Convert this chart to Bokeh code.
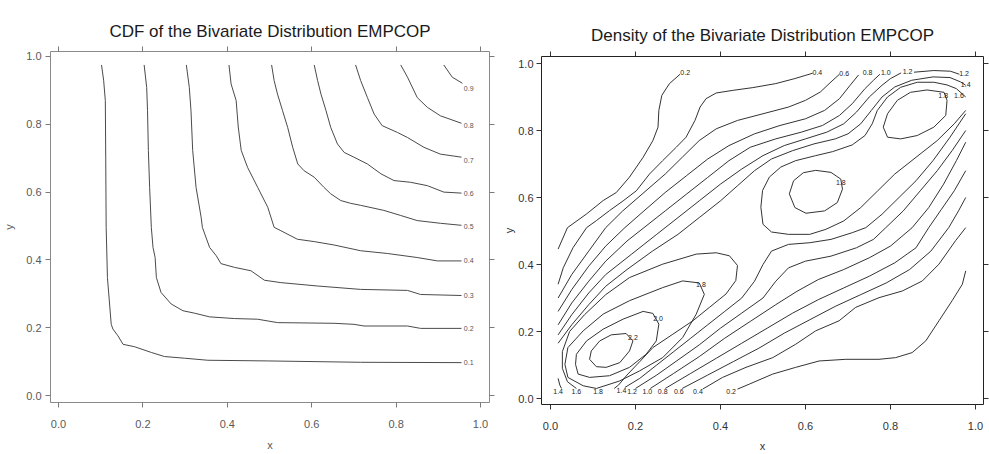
from bokeh.plotting import figure
from bokeh.layouts import row
from bokeh.models import FixedTicker, LinearAxis, Range1d, PrintfTickFormatter
from bokeh.embed import file_html
from bokeh.resources import INLINE
from bokeh.core.properties import value

TICKS = [0.0, 0.2, 0.4, 0.6, 0.8, 1.0]
FONT = "Liberation Sans"

# ---------------- CDF panel: contour lines ----------------
CDF_01 = [(0.102, 0.975), (0.107, 0.93), (0.111, 0.87), (0.112, 0.70), (0.113, 0.496), (0.116, 0.348),
          (0.125, 0.21), (0.129, 0.196), (0.141, 0.176), (0.153, 0.151), (0.18, 0.144), (0.22, 0.127),
          (0.251, 0.115), (0.299, 0.11), (0.354, 0.104), (0.496, 0.102), (0.716, 0.098), (0.955, 0.097)]
CDF_02 = [(0.203, 0.975), (0.209, 0.909), (0.211, 0.84), (0.213, 0.723), (0.216, 0.614), (0.22, 0.496),
          (0.224, 0.437), (0.229, 0.407), (0.232, 0.348), (0.243, 0.304), (0.267, 0.27), (0.295, 0.25),
          (0.322, 0.243), (0.358, 0.232), (0.417, 0.227), (0.472, 0.225), (0.519, 0.215), (0.653, 0.213),
          (0.7, 0.21), (0.724, 0.205), (0.827, 0.205), (0.858, 0.198), (0.955, 0.198)]
CDF_03 = [(0.303, 0.975), (0.31, 0.909), (0.314, 0.84), (0.318, 0.723), (0.326, 0.614), (0.338, 0.526),
          (0.341, 0.496), (0.358, 0.437), (0.374, 0.412), (0.385, 0.389), (0.417, 0.378), (0.456, 0.368),
          (0.488, 0.34), (0.527, 0.333), (0.614, 0.323), (0.716, 0.313), (0.827, 0.31), (0.858, 0.298),
          (0.955, 0.295)]
CDF_04 = [(0.404, 0.975), (0.409, 0.919), (0.421, 0.87), (0.426, 0.792), (0.433, 0.723), (0.448, 0.673),
          (0.472, 0.614), (0.496, 0.555), (0.511, 0.496), (0.527, 0.486), (0.566, 0.461), (0.606, 0.454),
          (0.653, 0.444), (0.716, 0.427), (0.779, 0.419), (0.85, 0.407), (0.898, 0.397), (0.955, 0.397)]
CDF_05 = [(0.505, 0.975), (0.511, 0.929), (0.519, 0.889), (0.531, 0.84), (0.543, 0.791), (0.555, 0.732),
          (0.567, 0.683), (0.582, 0.663), (0.606, 0.644), (0.629, 0.614), (0.645, 0.595), (0.669, 0.575),
          (0.692, 0.567), (0.716, 0.561), (0.771, 0.546), (0.811, 0.531), (0.85, 0.516), (0.905, 0.508),
          (0.955, 0.502)]
CDF_06 = [(0.606, 0.975), (0.614, 0.929), (0.622, 0.889), (0.634, 0.84), (0.645, 0.791), (0.661, 0.742),
          (0.677, 0.717), (0.7, 0.703), (0.732, 0.683), (0.764, 0.654), (0.795, 0.634), (0.834, 0.629),
          (0.874, 0.619), (0.913, 0.6), (0.955, 0.597)]
CDF_07 = [(0.704, 0.975), (0.716, 0.929), (0.732, 0.879), (0.748, 0.83), (0.767, 0.796), (0.803, 0.776),
          (0.827, 0.761), (0.866, 0.732), (0.905, 0.712), (0.955, 0.703)]
CDF_08 = [(0.811, 0.975), (0.827, 0.939), (0.85, 0.879), (0.874, 0.85), (0.905, 0.825), (0.955, 0.803)]
CDF_09 = [(0.913, 0.975), (0.933, 0.939), (0.957, 0.921)]
CDF_LINES = [CDF_01, CDF_02, CDF_03, CDF_04, CDF_05, CDF_06, CDF_07, CDF_08, CDF_09]
CDF_LABELS = ["0.1", "0.2", "0.3", "0.4", "0.5", "0.6", "0.7", "0.8", "0.9"]
CDF_LABEL_X = [0.972] * 9
CDF_LABEL_Y = [0.097, 0.198, 0.295, 0.398, 0.499, 0.596, 0.693, 0.796, 0.906]

# ---------------- Density panel: contour lines ----------------
# upper-left side of the ridge (left edge -> top edge)
DEN_02_A = [(0.018, 0.446), (0.04, 0.51), (0.085, 0.551), (0.124, 0.591), (0.155, 0.615), (0.186, 0.661),
            (0.218, 0.72), (0.241, 0.77), (0.253, 0.81), (0.255, 0.86), (0.262, 0.905), (0.28, 0.94),
            (0.305, 0.968)]
DEN_04_A = [(0.018, 0.341), (0.03, 0.39), (0.053, 0.45), (0.085, 0.51), (0.108, 0.531), (0.139, 0.561),
            (0.171, 0.59), (0.202, 0.62), (0.233, 0.67), (0.264, 0.71), (0.296, 0.75), (0.319, 0.78),
            (0.34, 0.83), (0.352, 0.87), (0.366, 0.895), (0.39, 0.912), (0.43, 0.92), (0.476, 0.928),
            (0.53, 0.94), (0.575, 0.955), (0.617, 0.971)]
DEN_06_A = [(0.018, 0.30), (0.05, 0.37), (0.09, 0.44), (0.13, 0.51), (0.17, 0.56), (0.22, 0.615),
            (0.27, 0.67), (0.31, 0.72), (0.35, 0.77), (0.39, 0.805), (0.44, 0.83), (0.50, 0.85),
            (0.56, 0.87), (0.60, 0.89), (0.635, 0.915), (0.66, 0.945), (0.68, 0.968)]
DEN_08_A = [(0.018, 0.26), (0.05, 0.325), (0.09, 0.395), (0.13, 0.455), (0.175, 0.51), (0.22, 0.56),
            (0.27, 0.615), (0.32, 0.665), (0.37, 0.715), (0.42, 0.755), (0.48, 0.79), (0.54, 0.815),
            (0.60, 0.835), (0.645, 0.86), (0.68, 0.895), (0.705, 0.935), (0.725, 0.966)]
DEN_10_A = [(0.018, 0.22), (0.05, 0.285), (0.09, 0.35), (0.13, 0.41), (0.18, 0.47), (0.22, 0.51),
            (0.27, 0.56), (0.32, 0.61), (0.37, 0.66), (0.42, 0.71), (0.47, 0.75), (0.53, 0.775),
            (0.59, 0.795), (0.64, 0.815), (0.68, 0.845), (0.71, 0.88), (0.74, 0.925), (0.76, 0.95),
            (0.775, 0.968)]
DEN_12_A = [(0.018, 0.19), (0.05, 0.25), (0.09, 0.315), (0.13, 0.37), (0.19, 0.43), (0.25, 0.49),
            (0.30, 0.54), (0.35, 0.59), (0.40, 0.64), (0.45, 0.685), (0.50, 0.725), (0.55, 0.755),
            (0.60, 0.775), (0.65, 0.795), (0.69, 0.82), (0.72, 0.855), (0.75, 0.90), (0.78, 0.935),
            (0.80, 0.955), (0.825, 0.972)]
DEN_12_B = [(0.855, 0.974), (0.902, 0.979), (0.941, 0.977), (0.962, 0.968)]
DEN_14_A = [(0.018, 0.165), (0.05, 0.22), (0.09, 0.28), (0.13, 0.335), (0.18, 0.385), (0.24, 0.44),
            (0.30, 0.49), (0.35, 0.54), (0.40, 0.59), (0.44, 0.635), (0.48, 0.68), (0.52, 0.715),
            (0.57, 0.74), (0.62, 0.76), (0.67, 0.775), (0.70, 0.79), (0.73, 0.82), (0.755, 0.86),
            (0.78, 0.90), (0.81, 0.93), (0.85, 0.95), (0.90, 0.96), (0.94, 0.958), (0.965, 0.945),
            (0.977, 0.935)]
DEN_16_A = [(0.977, 0.90), (0.955, 0.925), (0.933, 0.936), (0.902, 0.944), (0.863, 0.944), (0.824, 0.929),
            (0.793, 0.90), (0.769, 0.86), (0.757, 0.82), (0.74, 0.785), (0.71, 0.757), (0.664, 0.737),
            (0.624, 0.725), (0.577, 0.71), (0.542, 0.691), (0.515, 0.661), (0.499, 0.621), (0.495, 0.571),
            (0.50, 0.52), (0.52, 0.497), (0.56, 0.49), (0.61, 0.49), (0.648, 0.505), (0.69, 0.53),
            (0.73, 0.57), (0.77, 0.62), (0.81, 0.67), (0.86, 0.72), (0.91, 0.77), (0.95, 0.82),
            (0.977, 0.86)]
DEN_18_P2 = [(0.562, 0.611), (0.572, 0.65), (0.595, 0.674), (0.624, 0.681), (0.66, 0.675), (0.683, 0.655),
             (0.687, 0.625), (0.675, 0.585), (0.645, 0.56), (0.601, 0.553), (0.575, 0.57), (0.562, 0.611)]
DEN_18_P3 = [(0.926, 0.914), (0.886, 0.921), (0.847, 0.914), (0.816, 0.89), (0.793, 0.85), (0.783, 0.81),
             (0.793, 0.78), (0.824, 0.775), (0.863, 0.785), (0.902, 0.81), (0.93, 0.845), (0.933, 0.89),
             (0.926, 0.914)]
# rings round the lower-left peak
DEN_16_P1 = [(0.061, 0.03), (0.04, 0.05), (0.028, 0.09), (0.028, 0.14), (0.045, 0.2), (0.08, 0.25),
             (0.13, 0.31), (0.186, 0.361), (0.264, 0.401), (0.343, 0.431), (0.39, 0.435), (0.421, 0.426),
             (0.44, 0.397), (0.436, 0.352), (0.413, 0.312), (0.374, 0.272), (0.335, 0.232), (0.288, 0.192),
             (0.241, 0.152), (0.21, 0.11), (0.18, 0.07), (0.16, 0.04), (0.15, 0.03)]
DEN_18_P1 = [(0.311, 0.351), (0.264, 0.331), (0.186, 0.292), (0.124, 0.252), (0.077, 0.202),
             (0.041, 0.152), (0.034, 0.102), (0.041, 0.063), (0.077, 0.038), (0.108, 0.03),
             (0.162, 0.052), (0.209, 0.082), (0.264, 0.122), (0.311, 0.182), (0.343, 0.252),
             (0.362, 0.311), (0.35, 0.345), (0.311, 0.351)]
DEN_20_P1 = [(0.061, 0.132), (0.085, 0.172), (0.124, 0.207), (0.171, 0.237), (0.218, 0.26), (0.241, 0.254),
             (0.255, 0.222), (0.249, 0.172), (0.225, 0.132), (0.186, 0.093), (0.139, 0.068), (0.092, 0.063),
             (0.065, 0.073), (0.059, 0.102), (0.061, 0.132)]
DEN_22_P1 = [(0.092, 0.117), (0.096, 0.142), (0.116, 0.172), (0.143, 0.19), (0.178, 0.194), (0.194, 0.172),
             (0.186, 0.142), (0.163, 0.107), (0.131, 0.093), (0.108, 0.095), (0.092, 0.117)]
DEN_14_C = [(0.018, 0.06), (0.022, 0.04), (0.026, 0.03)]
# lower-right side of the ridge (bottom edge -> right edge)
DEN_02_B = [(0.44, 0.028), (0.468, 0.043), (0.523, 0.073), (0.577, 0.093), (0.632, 0.112), (0.695, 0.117),
            (0.773, 0.117), (0.812, 0.122), (0.851, 0.137), (0.883, 0.172), (0.914, 0.232), (0.945, 0.292),
            (0.969, 0.341), (0.977, 0.381)]
DEN_04_B = [(0.358, 0.028), (0.405, 0.063), (0.46, 0.093), (0.523, 0.122), (0.577, 0.162), (0.624, 0.202),
            (0.679, 0.232), (0.718, 0.272), (0.773, 0.301), (0.828, 0.321), (0.875, 0.351), (0.914, 0.401),
            (0.953, 0.471), (0.977, 0.51)]
DEN_06_B = [(0.31, 0.03), (0.37, 0.07), (0.43, 0.11), (0.49, 0.15), (0.55, 0.195), (0.61, 0.235),
            (0.67, 0.275), (0.73, 0.31), (0.79, 0.345), (0.845, 0.385), (0.895, 0.44), (0.937, 0.51),
            (0.96, 0.56), (0.977, 0.60)]
DEN_08_B = [(0.27, 0.03), (0.33, 0.075), (0.39, 0.12), (0.45, 0.165), (0.51, 0.21), (0.57, 0.255),
            (0.63, 0.295), (0.69, 0.33), (0.75, 0.365), (0.81, 0.405), (0.86, 0.45), (0.89, 0.51),
            (0.92, 0.565), (0.95, 0.62), (0.977, 0.68)]
DEN_10_B = [(0.235, 0.03), (0.29, 0.075), (0.35, 0.125), (0.41, 0.18), (0.47, 0.23), (0.53, 0.28),
            (0.58, 0.32), (0.63, 0.355), (0.69, 0.385), (0.75, 0.42), (0.80, 0.455), (0.851, 0.51),
            (0.89, 0.57), (0.925, 0.64), (0.955, 0.71), (0.977, 0.765)]
DEN_12_C = [(0.20, 0.03), (0.25, 0.07), (0.30, 0.115), (0.35, 0.16), (0.40, 0.21), (0.45, 0.255),
            (0.50, 0.30), (0.53, 0.35), (0.56, 0.39), (0.60, 0.41), (0.66, 0.425), (0.72, 0.45),
            (0.76, 0.475), (0.789, 0.51), (0.83, 0.56), (0.87, 0.62), (0.91, 0.68), (0.945, 0.74),
            (0.977, 0.80)]
DEN_14_B = [(0.175, 0.033), (0.21, 0.06), (0.25, 0.10), (0.29, 0.14), (0.33, 0.18), (0.37, 0.22),
            (0.41, 0.26), (0.45, 0.30), (0.48, 0.35), (0.50, 0.40), (0.52, 0.44), (0.56, 0.46),
            (0.61, 0.465), (0.66, 0.475), (0.71, 0.495), (0.742, 0.51), (0.78, 0.55), (0.82, 0.60),
            (0.86, 0.65), (0.90, 0.71), (0.94, 0.78), (0.977, 0.85)]
DEN_LINES = [DEN_02_A, DEN_04_A, DEN_06_A, DEN_08_A, DEN_10_A, DEN_12_A, DEN_12_B, DEN_14_A, DEN_16_A,
             DEN_18_P2, DEN_18_P3, DEN_16_P1, DEN_18_P1, DEN_20_P1, DEN_22_P1, DEN_14_C, DEN_02_B,
             DEN_04_B, DEN_06_B, DEN_08_B, DEN_10_B, DEN_12_C, DEN_14_B]
DEN_LABELS = ["0.2", "0.4", "0.6", "0.8", "1.0", "1.2", "1.2", "1.4", "1.8", "1.6",
              "1.8", "1.8", "2.0", "2.2",
              "1.4", "1.6", "1.8", "1.4", "1.2", "1.0", "0.8", "0.6", "0.4", "0.2"]
DEN_LABEL_X = [0.317, 0.628, 0.691, 0.746, 0.789, 0.840, 0.973, 0.977, 0.924, 0.961,
               0.683, 0.354, 0.253, 0.194,
               0.018, 0.061, 0.112, 0.167, 0.192, 0.228, 0.264, 0.302, 0.347, 0.425]
DEN_LABEL_Y = [0.973, 0.974, 0.971, 0.974, 0.974, 0.977, 0.971, 0.936, 0.904, 0.904,
               0.646, 0.339, 0.240, 0.182,
               0.02, 0.02, 0.02, 0.025, 0.02, 0.02, 0.02, 0.02, 0.02, 0.02]


def make_panel(title, xr, yr, width, height, borders, ink, frame, tick_col,
               ylab_standoff, xlab_standoff, title_standoff, ytick_standoff, top_pad):
    left, right, top, bottom = borders
    p = figure(width=width, height=height, x_range=Range1d(*xr), y_range=Range1d(*yr),
               output_backend="svg", toolbar_location=None, frame_align=False,
               min_border_left=left, min_border_right=right, min_border_top=top,
               min_border_bottom=bottom)
    p.title.text = title
    p.title.align = "center"
    p.title.text_font = FONT
    p.title.text_font_size = "17px"
    p.title.text_font_style = "normal"
    p.title.text_color = "#1a1a1a"
    p.title.standoff = title_standoff
    p.grid.visible = False
    p.background_fill_color = "white"
    p.border_fill_color = "white"
    p.outline_line_color = frame
    p.outline_line_width = 1
    top_axis = LinearAxis()
    p.add_layout(top_axis, "above")
    p.add_layout(LinearAxis(), "right")
    for ax in p.axis:
        ax.ticker = FixedTicker(ticks=TICKS)
        ax.formatter = PrintfTickFormatter(format="%.1f")
        ax.axis_line_color = None
        ax.major_tick_line_color = tick_col
        ax.major_tick_out = 5
        ax.major_tick_in = 0
        ax.minor_tick_line_color = None
        ax.major_label_text_font = FONT
        ax.major_label_text_font_size = "11px"
        ax.major_label_text_color = ink
        ax.axis_label_text_font = FONT
        ax.axis_label_text_font_size = "11px"
        ax.axis_label_text_font_style = "normal"
        ax.axis_label_text_color = ink
    for ax in list(p.above) + list(p.right):
        if isinstance(ax, LinearAxis):
            ax.major_label_text_color = None
            ax.major_label_text_font_size = "0px"
            ax.major_label_standoff = 0
    top_axis.major_label_standoff = top_pad
    p.below[0].major_label_standoff = 12
    p.left[0].major_label_standoff = ytick_standoff
    p.below[0].axis_label = "x"
    p.below[0].axis_label_standoff = xlab_standoff
    p.left[0].axis_label = "y"
    p.left[0].axis_label_standoff = ylab_standoff
    return p


# left figure: frame at x 49..489, y 51..402 of the page
p1 = make_panel("CDF of the Bivariate Distribution EMPCOP", (-0.0189, 1.0213), (-0.0206, 1.0147),
                500, 454, (49, 11, 51, 52), "#595959", "#8a8a8a", "#7a7a7a", 8, 8, 11, 4, 11)
p1.multi_line(xs=[[pt[0] for pt in ln] for ln in CDF_LINES],
              ys=[[pt[1] for pt in ln] for ln in CDF_LINES],
              line_color="#4a4a4a", line_width=1)
p1.text(x=CDF_LABEL_X, y=CDF_LABEL_Y, text=CDF_LABELS, text_font=value(FONT),
        text_font_size="7px", text_color="#555555", text_align="center", text_baseline="middle")

# right figure: frame at x 540..983, y 56..404 of the page
p2 = make_panel("Density of the Bivariate Distribution EMPCOP", (-0.0211, 1.0188), (-0.0179, 1.0209),
                489, 454, (40, 6, 56, 50), "#333333", "#222222", "#333333", 0, 7, 13, 3, 13)
p2.multi_line(xs=[[pt[0] for pt in ln] for ln in DEN_LINES],
              ys=[[pt[1] for pt in ln] for ln in DEN_LINES],
              line_color="#333333", line_width=1)
p2.text(x=DEN_LABEL_X, y=DEN_LABEL_Y, text=DEN_LABELS, text_font=value(FONT),
        text_font_size="7px", text_color="#222222", text_align="center", text_baseline="middle")

layout = row(p1, p2)
open("out.html", "w").write(file_html(layout, INLINE))
